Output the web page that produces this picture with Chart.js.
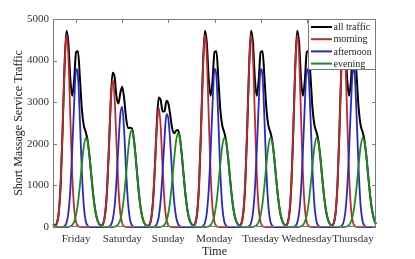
<!DOCTYPE html>
<html>
<head>
<meta charset="utf-8">
<script src="https://cdn.jsdelivr.net/npm/chart.js@4.4.1/dist/chart.umd.min.js"></script>
<style>
  html, body { margin: 0; padding: 0; background: #fff; }
  #wrap { width: 415px; height: 259px; position: relative; }
</style>
</head>
<body>
<div id="wrap"><canvas id="c" width="415" height="259"></canvas></div>
<script>
// ---- Data (hourly values) ----
const dayNames = ['Friday', 'Saturday', 'Sunday', 'Monday', 'Tuesday', 'Wednesday', 'Thursday'];
const dayTypes = ['weekday', 'saturday', 'sunday', 'weekday', 'weekday', 'weekday', 'weekday'];
const seriesLabels = ['all traffic', 'morning', 'afternoon', 'evening'];
const yTickValues = [0, 1000, 2000, 3000, 4000, 5000];

// weekday profile (hours 0..23)
const weekdayAll       = [72, 39, 90, 346, 1051, 2347, 3866, 4720, 4427, 3562, 3154, 3535, 4205, 4225, 3572, 2841, 2447, 2289, 2081, 1697, 1204, 739, 391, 178];
const weekdayMorning   = [2, 15, 83, 346, 1051, 2343, 3843, 4621, 4086, 2653, 1264, 443, 114, 22, 3, 0, 0, 0, 0, 0, 0, 0, 0, 0];
const weekdayAfternoon = [0, 0, 0, 0, 0, 4, 23, 99, 337, 894, 1844, 2967, 3800, 3620, 2561, 1338, 514, 145, 30, 5, 0, 0, 0, 0];
const weekdayEvening   = [70, 24, 7, 0, 0, 0, 0, 0, 4, 15, 46, 125, 291, 583, 1008, 1503, 1933, 2144, 2051, 1692, 1204, 739, 391, 178];

// Saturday profile
const saturdayAll       = [71, 36, 71, 265, 807, 1809, 2993, 3710, 3619, 3144, 2967, 3217, 3371, 3089, 2623, 2379, 2385, 2373, 2138, 1682, 1144, 672, 340, 149];
const saturdayMorning   = [1, 12, 64, 265, 807, 1800, 2950, 3548, 3137, 2037, 970, 340, 87, 17, 2, 0, 0, 0, 0, 0, 0, 0, 0, 0];
const saturdayAfternoon = [0, 0, 0, 0, 0, 9, 43, 162, 475, 1084, 1928, 2700, 2890, 2315, 1370, 595, 190, 45, 8, 0, 0, 0, 0, 0];
const saturdayEvening   = [70, 24, 7, 0, 0, 0, 0, 0, 7, 23, 69, 177, 394, 757, 1251, 1784, 2195, 2328, 2130, 1682, 1144, 672, 340, 149];

// Sunday profile
const sundayAll       = [56, 24, 43, 180, 608, 1453, 2485, 3111, 3058, 2774, 2780, 3034, 2970, 2685, 2370, 2255, 2312, 2334, 2148, 1735, 1214, 734, 382, 172];
const sundayMorning   = [0, 6, 38, 180, 605, 1437, 2414, 2870, 2414, 1437, 605, 180, 38, 6, 0, 0, 0, 0, 0, 0, 0, 0, 0, 0];
const sundayAfternoon = [0, 0, 0, 0, 3, 16, 71, 241, 639, 1319, 2121, 2710, 2602, 2027, 1260, 624, 246, 77, 19, 4, 0, 0, 0, 0];
const sundayEvening   = [56, 18, 5, 0, 0, 0, 0, 0, 5, 18, 54, 144, 330, 652, 1110, 1631, 2066, 2257, 2129, 1731, 1214, 734, 382, 172];

// value at the closing hour 168 (all, morning, afternoon, evening)
const closingHour = [72, 2, 0, 70];

// ---- Build the week series ----
function buildWeek(wk, sat, sun, last) {
  const byType = { weekday: wk, saturday: sat, sunday: sun };
  return dayTypes.flatMap(t => byType[t]).concat([last]);
}
const allTraffic = buildWeek(weekdayAll, saturdayAll, sundayAll, closingHour[0]);
const morning    = buildWeek(weekdayMorning, saturdayMorning, sundayMorning, closingHour[1]);
const afternoon  = buildWeek(weekdayAfternoon, saturdayAfternoon, sundayAfternoon, closingHour[2]);
const evening    = buildWeek(weekdayEvening, saturdayEvening, sundayEvening, closingHour[3]);
const hours = allTraffic.map((_, i) => i);
const dayCenters = dayNames.map((_, i) => 12 + 24 * i);

const colors = ['#000000', '#c0282c', '#2828c4', '#1f8a22'];
const widths = [2, 1.8, 1.8, 1.8];
const serif = '"Liberation Serif", "Times New Roman", serif';

const seriesData = [allTraffic, morning, afternoon, evening];
const datasets = seriesData.map((d, i) => ({
  label: seriesLabels[i],
  data: d,
  borderColor: colors[i],
  backgroundColor: colors[i],
  borderWidth: widths[i],
  pointRadius: 0,
  cubicInterpolationMode: 'monotone',
  fill: false,
  clip: false,
  order: 4 - i
}));

const axisColor = '#7a7a7a';
const boxPlugin = {
  id: 'matlabBox',
  afterDatasetsDraw(chart) {
    const { ctx, chartArea: a, scales } = chart;
    ctx.save();
    ctx.strokeStyle = axisColor;
    ctx.lineWidth = 1;
    const L = Math.round(a.left) + 0.5, R = Math.round(a.right) - 0.5;
    const T = Math.round(a.top) + 0.5, B = Math.round(a.bottom) - 0.5;
    ctx.strokeRect(L, T, R - L, B - T);
    const tl = 3.5;
    ctx.beginPath();
    yTickValues.forEach(v => {
      const y = Math.round(scales.y.getPixelForValue(v)) + 0.5;
      ctx.moveTo(L, y); ctx.lineTo(L + tl, y);
      ctx.moveTo(R, y); ctx.lineTo(R - tl, y);
    });
    dayCenters.forEach(v => {
      const x = Math.round(scales.x.getPixelForValue(v)) + 0.5;
      ctx.moveTo(x, B); ctx.lineTo(x, B - tl);
      ctx.moveTo(x, T); ctx.lineTo(x, T + tl);
    });
    ctx.stroke();

    // legend inside top-right
    const lw = 67, lh = 50;
    const lx = R - lw, ly = T;
    ctx.fillStyle = '#ffffff';
    ctx.fillRect(lx, ly, lw, lh);
    ctx.strokeStyle = axisColor;
    ctx.strokeRect(lx, ly, lw, lh);
    ctx.font = '10px ' + serif;
    ctx.textBaseline = 'middle';
    ctx.textAlign = 'left';
    chart.data.datasets.forEach((ds, i) => {
      const y = ly + 7.5 + i * 12.2;
      ctx.strokeStyle = ds.borderColor;
      ctx.lineWidth = 2;
      ctx.beginPath();
      ctx.moveTo(lx + 2.5, y);
      ctx.lineTo(lx + 23.5, y);
      ctx.stroke();
      ctx.fillStyle = '#222';
      ctx.fillText(ds.label, lx + 25, y + 0.5);
    });
    ctx.restore();
  }
};

new Chart(document.getElementById('c'), {
  type: 'line',
  data: { labels: hours, datasets },
  plugins: [boxPlugin],
  options: {
    responsive: false,
    animation: false,
    devicePixelRatio: 1,
    layout: { padding: { top: 19, right: 39, left: 0, bottom: 0 } },
    plugins: { legend: { display: false }, tooltip: { enabled: false } },
    scales: {
      x: {
        type: 'linear',
        min: 0,
        max: 168,
        grid: { display: false, drawTicks: false },
        border: { display: false },
        afterBuildTicks: (scale) => { scale.ticks = dayCenters.map(v => ({ value: v })); },
        afterFit: (scale) => { scale.height = 32; },
        ticks: {
          autoSkip: false,
          maxRotation: 0,
          padding: 6,
          color: '#333',
          font: { family: serif, size: 11 },
          callback: (value, index) => dayNames[index]
        },
        title: {
          display: true,
          text: 'Time',
          color: '#222',
          font: { family: serif, size: 12 },
          padding: { top: 0, bottom: 0 }
        }
      },
      y: {
        min: 0,
        max: 5000,
        grid: { display: false, drawTicks: false },
        border: { display: false },
        afterBuildTicks: (scale) => { scale.ticks = yTickValues.map(v => ({ value: v })); },
        afterFit: (scale) => { scale.width = 53; },
        ticks: {
          padding: 4,
          color: '#333',
          font: { family: serif, size: 11 },
          callback: (value) => String(value)
        },
        title: {
          display: true,
          text: 'Short Massage Service Traffic',
          color: '#222',
          font: { family: serif, size: 12 },
          padding: { top: 12, bottom: 0 }
        }
      }
    }
  }
});
</script>
</body>
</html>
